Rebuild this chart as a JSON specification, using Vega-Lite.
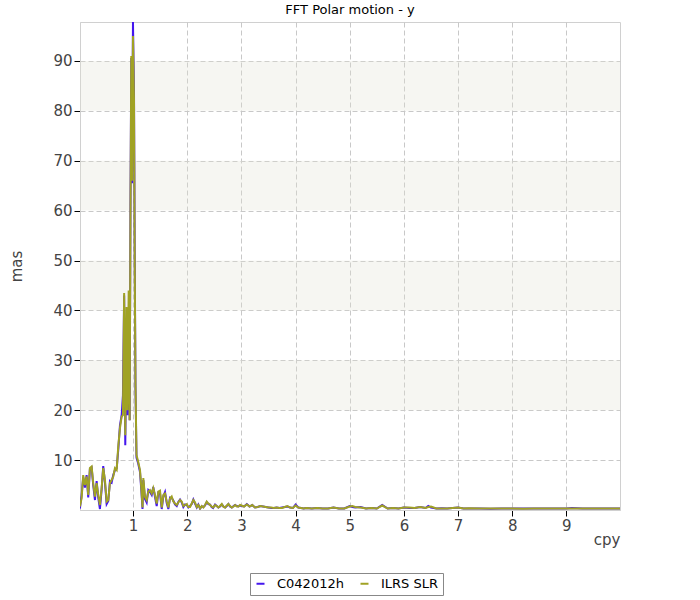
{
  "$schema": "https://vega.github.io/schema/vega-lite/v6.json",
  "autosize": {"type": "none"},
  "padding": {"left": 80, "top": 22, "right": 80, "bottom": 90},
  "width": 540,
  "height": 488,
  "title": {"text": "FFT Polar motion - y", "fontSize": 13, "font": "DejaVu Sans", "fontWeight": "normal", "color": "#000000", "offset": 5},
  "config": {
    "view": {"stroke": "#d0d0d0"},
    "axis": {
      "labelFont": "DejaVu Sans", "titleFont": "DejaVu Sans",
      "labelFontSize": 15, "titleFontSize": 15,
      "labelColor": "#444444", "titleColor": "#444444", "titleFontWeight": "normal",
      "gridColor": "#c8c8c8", "gridDash": [5, 3], "gridWidth": 1,
      "tickColor": "#000000", "tickSize": 6, "domainColor": "#d0d0d0"
    }
  },
  "datasets": {
    "spec": [
      {"f":0.018,"c":0.3,"i":0.7},{"f":0.050,"c":3.0,"i":2.4},{"f":0.079,"c":6.5,"i":7.0},{"f":0.111,"c":4.5,"i":5.0},
      {"f":0.142,"c":7.0,"i":6.7},{"f":0.172,"c":2.5,"i":3.0},{"f":0.203,"c":8.2,"i":8.4},{"f":0.235,"c":8.5,"i":8.7},
      {"f":0.264,"c":5.0,"i":5.4},{"f":0.296,"c":2.0,"i":2.7},{"f":0.327,"c":5.8,"i":5.4},{"f":0.357,"c":2.5,"i":3.0},
      {"f":0.388,"c":0.2,"i":1.0},{"f":0.420,"c":4.2,"i":4.5},{"f":0.449,"c":8.8,"i":8.4},{"f":0.481,"c":5.5,"i":6.0},
      {"f":0.512,"c":1.2,"i":1.7},{"f":0.542,"c":1.8,"i":2.0},{"f":0.573,"c":5.8,"i":5.4},{"f":0.604,"c":5.5,"i":6.0},
      {"f":0.634,"c":7.0,"i":6.7},{"f":0.665,"c":8.0,"i":8.4},{"f":0.697,"c":8.3,"i":8.0},{"f":0.726,"c":12.0,"i":12.7},
      {"f":0.758,"c":17.0,"i":16.4},{"f":0.789,"c":19.0,"i":18.7},{"f":0.813,"c":23.0,"i":19.0},{"f":0.835,"c":43.0,"i":43.5},
      {"f":0.856,"c":13.0,"i":15.0},{"f":0.878,"c":35.0,"i":40.7},{"f":0.896,"c":19.0,"i":20.0},{"f":0.919,"c":38.0,"i":44.0},
      {"f":0.937,"c":18.0,"i":18.0},{"f":0.952,"c":62.0,"i":60.0},{"f":0.967,"c":90.6,"i":91.0},{"f":0.980,"c":65.5,"i":66.0},
      {"f":0.998,"c":97.8,"i":95.0},{"f":1.017,"c":84.0,"i":82.0},{"f":1.031,"c":50.0,"i":48.0},{"f":1.044,"c":25.0,"i":25.4},
      {"f":1.063,"c":10.5,"i":11.0},{"f":1.091,"c":9.5,"i":9.8},{"f":1.128,"c":7.6,"i":8.0},{"f":1.155,"c":3.5,"i":4.0},
      {"f":1.174,"c":0.2,"i":0.5},{"f":1.189,"c":6.0,"i":6.4},{"f":1.220,"c":2.2,"i":2.6},{"f":1.251,"c":1.5,"i":2.0},
      {"f":1.281,"c":4.0,"i":3.7},{"f":1.312,"c":3.6,"i":4.0},{"f":1.344,"c":3.0,"i":3.3},{"f":1.373,"c":4.6,"i":4.4},
      {"f":1.405,"c":2.6,"i":3.0},{"f":1.436,"c":0.8,"i":1.3},{"f":1.466,"c":3.5,"i":3.7},{"f":1.497,"c":3.4,"i":3.9},
      {"f":1.529,"c":0.2,"i":0.5},{"f":1.558,"c":2.7,"i":3.0},{"f":1.590,"c":3.6,"i":3.3},{"f":1.621,"c":1.4,"i":1.7},
      {"f":1.651,"c":0.2,"i":0.5},{"f":1.682,"c":2.5,"i":2.3},{"f":1.713,"c":2.4,"i":2.7},{"f":1.743,"c":1.9,"i":1.7},
      {"f":1.774,"c":1.1,"i":1.3},{"f":1.806,"c":0.8,"i":1.0},{"f":1.835,"c":1.6,"i":1.5},{"f":1.867,"c":2.1,"i":2.0},
      {"f":1.898,"c":1.5,"i":1.7},{"f":1.928,"c":0.6,"i":0.8},{"f":1.959,"c":1.1,"i":1.0},{"f":1.991,"c":1.0,"i":1.2},
      {"f":2.020,"c":0.5,"i":0.6},{"f":2.052,"c":0.8,"i":0.6},{"f":2.083,"c":1.2,"i":1.3},{"f":2.113,"c":2.1,"i":2.0},
      {"f":2.144,"c":1.3,"i":1.5},{"f":2.176,"c":0.5,"i":0.6},{"f":2.205,"c":1.1,"i":1.0},{"f":2.237,"c":0.3,"i":0.3},
      {"f":2.268,"c":0.7,"i":0.8},{"f":2.298,"c":0.6,"i":0.5},{"f":2.329,"c":0.9,"i":1.0},{"f":2.360,"c":1.6,"i":1.7},
      {"f":2.390,"c":1.2,"i":1.3},{"f":2.421,"c":1.1,"i":1.0},{"f":2.450,"c":0.6,"i":0.7},{"f":2.477,"c":0.4,"i":0.5},
      {"f":2.514,"c":1.1,"i":1.0},{"f":2.545,"c":0.8,"i":0.8},{"f":2.575,"c":0.5,"i":0.5},{"f":2.605,"c":0.7,"i":0.8},
      {"f":2.638,"c":1.1,"i":1.2},{"f":2.670,"c":0.7,"i":0.6},{"f":2.699,"c":0.5,"i":0.5},{"f":2.730,"c":0.8,"i":0.9},
      {"f":2.760,"c":1.2,"i":1.2},{"f":2.790,"c":0.7,"i":0.8},{"f":2.823,"c":0.5,"i":0.5},{"f":2.855,"c":0.8,"i":0.7},
      {"f":2.884,"c":1.0,"i":1.0},{"f":2.915,"c":0.8,"i":0.7},{"f":2.945,"c":0.7,"i":0.7},{"f":2.975,"c":0.9,"i":1.0},
      {"f":3.00,"c":0.8,"i":0.9},{"f":3.05,"c":0.7,"i":0.7},{"f":3.10,"c":1.2,"i":1.1},{"f":3.15,"c":0.7,"i":0.7},
      {"f":3.20,"c":1.0,"i":1.0},{"f":3.25,"c":0.5,"i":0.5},{"f":3.30,"c":0.6,"i":0.6},{"f":3.35,"c":0.8,"i":0.8},
      {"f":3.40,"c":0.7,"i":0.7},{"f":3.45,"c":0.6,"i":0.6},{"f":3.50,"c":0.5,"i":0.5},{"f":3.55,"c":0.4,"i":0.5},
      {"f":3.60,"c":0.4,"i":0.4},{"f":3.65,"c":0.5,"i":0.5},{"f":3.70,"c":0.4,"i":0.4},{"f":3.75,"c":0.5,"i":0.4},
      {"f":3.80,"c":0.6,"i":0.6},{"f":3.85,"c":0.7,"i":0.8},{"f":3.90,"c":0.5,"i":0.5},{"f":3.95,"c":0.4,"i":0.4},
      {"f":4.00,"c":1.1,"i":0.9},{"f":4.05,"c":0.5,"i":0.5},{"f":4.10,"c":0.4,"i":0.4},{"f":4.15,"c":0.3,"i":0.3},
      {"f":4.20,"c":0.4,"i":0.4},{"f":4.30,"c":0.3,"i":0.3},{"f":4.40,"c":0.4,"i":0.4},{"f":4.50,"c":0.3,"i":0.3},
      {"f":4.60,"c":0.3,"i":0.3},{"f":4.70,"c":0.5,"i":0.5},{"f":4.80,"c":0.3,"i":0.3},{"f":4.90,"c":0.3,"i":0.3},
      {"f":5.00,"c":0.8,"i":0.7},{"f":5.05,"c":0.6,"i":0.8},{"f":5.10,"c":0.5,"i":0.6},{"f":5.20,"c":0.6,"i":0.5},
      {"f":5.30,"c":0.3,"i":0.3},{"f":5.40,"c":0.4,"i":0.4},{"f":5.50,"c":0.3,"i":0.3},{"f":5.60,"c":1.0,"i":0.9},
      {"f":5.70,"c":0.3,"i":0.3},{"f":5.80,"c":0.4,"i":0.4},{"f":5.90,"c":0.3,"i":0.3},{"f":6.00,"c":0.5,"i":0.5},
      {"f":6.10,"c":0.4,"i":0.5},{"f":6.20,"c":0.4,"i":0.4},{"f":6.30,"c":0.6,"i":0.6},{"f":6.40,"c":0.4,"i":0.4},
      {"f":6.45,"c":0.8,"i":0.6},{"f":6.50,"c":0.5,"i":0.7},{"f":6.60,"c":0.3,"i":0.3},{"f":6.70,"c":0.35,"i":0.3},
      {"f":6.80,"c":0.3,"i":0.3},{"f":6.90,"c":0.4,"i":0.4},{"f":7.00,"c":0.5,"i":0.5},{"f":7.10,"c":0.3,"i":0.3},
      {"f":7.20,"c":0.3,"i":0.35},{"f":7.40,"c":0.3,"i":0.3},{"f":7.60,"c":0.25,"i":0.3},{"f":7.80,"c":0.3,"i":0.3},
      {"f":8.00,"c":0.3,"i":0.3},{"f":8.20,"c":0.3,"i":0.25},{"f":8.40,"c":0.3,"i":0.3},{"f":8.60,"c":0.3,"i":0.3},
      {"f":8.80,"c":0.3,"i":0.3},{"f":9.00,"c":0.3,"i":0.3},{"f":9.10,"c":0.4,"i":0.3},{"f":9.30,"c":0.3,"i":0.3},
      {"f":9.50,"c":0.3,"i":0.3},{"f":9.70,"c":0.3,"i":0.3},{"f":9.99,"c":0.3,"i":0.3}
    ],
    "bands": [
      {"lo": 20, "hi": 30}, {"lo": 40, "hi": 50}, {"lo": 60, "hi": 70}, {"lo": 80, "hi": 90}
    ]
  },
  "layer": [
    {
      "data": {"name": "bands"},
      "mark": {"type": "rect", "color": "#e1e1d4", "opacity": 0.3},
      "encoding": {
        "y": {"field": "lo", "type": "quantitative", "title": "mas",
              "scale": {"domain": [0, 97.8], "nice": false, "zero": false},
              "axis": {"values": [10, 20, 30, 40, 50, 60, 70, 80, 90], "titlePadding": 28}},
        "y2": {"field": "hi"}
      }
    },
    {
      "data": {"name": "spec"},
      "mark": {"type": "line", "strokeWidth": 2, "clip": true},
      "encoding": {
        "x": {"field": "f", "type": "quantitative", "title": "cpy",
              "scale": {"domain": [0.02, 9.99], "nice": false, "zero": false},
              "axis": {"values": [1, 2, 3, 4, 5, 6, 7, 8, 9], "titleAnchor": "end", "titlePadding": -1}},
        "y": {"field": "c", "type": "quantitative", "title": "mas"},
        "color": {"datum": "C042012h", "type": "nominal",
                  "scale": {"domain": ["C042012h", "ILRS SLR"], "range": ["#4416ee", "#a0a224"]},
                  "legend": {"title": null, "orient": "none", "legendX": 170, "legendY": 551, "direction": "horizontal",
                             "symbolType": "stroke", "symbolStrokeWidth": 2, "symbolSize": 64,
                             "labelFont": "DejaVu Sans", "labelFontSize": 13, "labelColor": "#000000",
                             "padding": 4, "strokeColor": "#888888", "fillColor": "#ffffff",
                             "columnPadding": 12, "labelOffset": 10}}
      }
    },
    {
      "data": {"name": "spec"},
      "mark": {"type": "line", "strokeWidth": 2, "clip": true},
      "encoding": {
        "x": {"field": "f", "type": "quantitative", "title": "cpy"},
        "y": {"field": "i", "type": "quantitative", "title": "mas"},
        "color": {"datum": "ILRS SLR", "type": "nominal"}
      }
    }
  ]
}
